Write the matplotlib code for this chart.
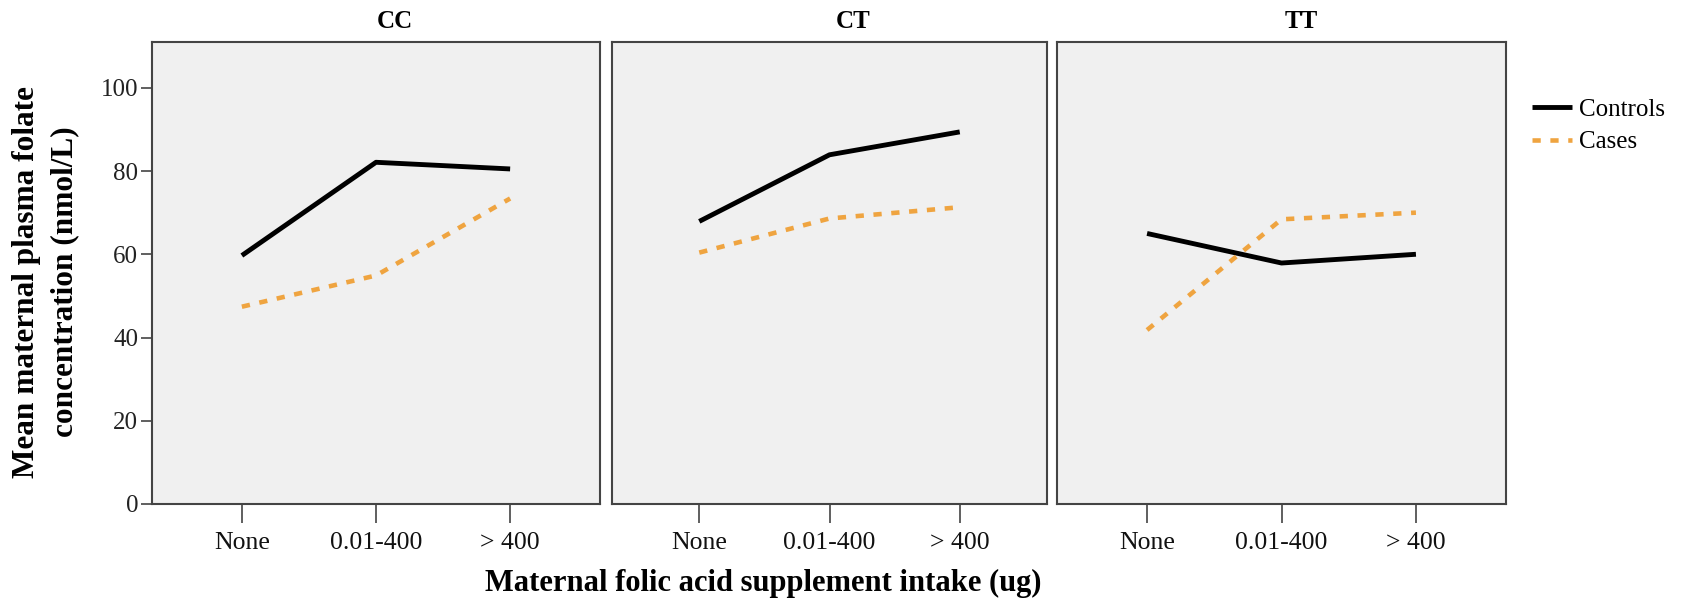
import matplotlib
matplotlib.use("Agg")
import matplotlib.pyplot as plt

categories = ["None", "0.01-400", "> 400"]
panels = ["CC", "CT", "TT"]
controls = {
    "CC": [59.7, 82.1, 80.5],
    "CT": [67.9, 83.9, 89.4],
    "TT": [65.0, 57.9, 60.0],
}
cases = {
    "CC": [47.4, 54.9, 73.4],
    "CT": [60.4, 68.6, 71.3],
    "TT": [41.8, 68.4, 70.0],
}
yticks = [0, 20, 40, 60, 80, 100]

plt.rcParams['font.family'] = ['Liberation Serif', 'DejaVu Serif']

W, H = 1684, 603
fig = plt.figure(figsize=(W / 100, H / 100), dpi=100)
fig.patch.set_facecolor("white")

boxes = [(152, 600), (612, 1047), (1057, 1506)]
top, bottom = 42, 504
title_off = [19, 24, 20]
case_color = "#EFA440"

for i, (p, (x0, x1)) in enumerate(zip(panels, boxes)):
    ax = fig.add_axes([x0 / W, 1 - bottom / H, (x1 - x0) / W, (bottom - top) / H])
    ax.set_facecolor("#F0F0F0")
    xs = list(range(len(categories)))
    ax.plot(xs, controls[p], color="black", lw=3.5, solid_capstyle="butt",
            solid_joinstyle="round", label="Controls")
    l, = ax.plot(xs, cases[p], color=case_color, lw=3.3, dash_capstyle="butt",
                 label="Cases")
    l.set_dashes((1.8, 2.1))
    ax.set_xlim(-0.67, 2.67)
    ax.set_ylim(0, 111)
    ax.set_xticks(xs)
    ax.set_xticklabels(categories, fontsize=18.5)
    for s in ax.spines.values():
        s.set_color("#444444")
        s.set_linewidth(1.5)
    ax.tick_params(axis="x", length=14, width=1.2, color="#444444", pad=6,
                   labelcolor="#111111")
    if i == 0:
        ax.set_yticks(yticks)
        ax.set_yticklabels([str(v) for v in yticks], fontsize=18)
        ax.tick_params(axis="y", length=8, width=1.2, color="#444444", pad=2,
                       labelcolor="#222222")
    else:
        ax.set_yticks([])
    cx = (x0 + x1) / 2 + title_off[i]
    fig.text(cx / W, 1 - 22 / H, p, ha="center", va="center",
             fontsize=18, fontweight="bold")
    if i == 0:
        handles, labels = ax.get_legend_handles_labels()

fig.text(27 / W, 1 - 282 / H, "Mean maternal plasma folate", rotation=90,
         ha="center", va="center", fontsize=22.5, fontweight="bold")
fig.text(65 / W, 1 - 282 / H, "concentration (nmol/L)", rotation=90,
         ha="center", va="center", fontsize=22.5, fontweight="bold")
fig.text(763 / W, 1 - 583 / H, "Maternal folic acid supplement intake (ug)",
         ha="center", va="center", fontsize=22, fontweight="bold")

leg = fig.legend(handles, labels, loc="center left",
                 bbox_to_anchor=(1532 / W, 1 - 126 / H),
                 frameon=False, fontsize=18, handlelength=1.6,
                 handletextpad=0.3, labelspacing=0.4, borderpad=0,
                 borderaxespad=0)

fig.savefig("out.png", dpi=100, facecolor="white")
